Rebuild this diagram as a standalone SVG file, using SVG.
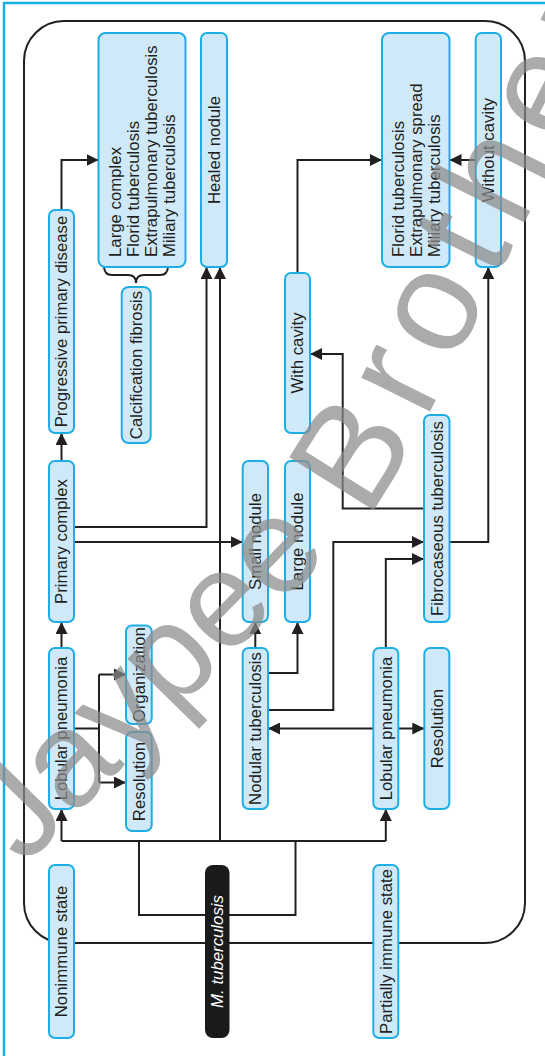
<svg xmlns="http://www.w3.org/2000/svg" width="545" height="1056" viewBox="0 0 545 1056">
<defs>
<style>
.n rect{fill:#d0e9f8;stroke:#1eaee5;stroke-width:2}
.t{font-family:"Liberation Sans",Arial,Helvetica,sans-serif;font-size:16.8px;fill:#231f20}
.c{fill:none;stroke:#231f20;stroke-width:2}
.a{marker-end:url(#ah)}
</style>
<marker id="ah" viewBox="0 0 12 12" refX="12" refY="6" markerWidth="12" markerHeight="12" markerUnits="userSpaceOnUse" orient="auto-start-reverse">
<path d="M0,0 L12,6 L0,12 z" fill="#231f20"/>
</marker>
<path id="wm" d="M-9,834 L290,528 Q340,477 370,420 L600,-40"/>
</defs>
<rect x="0" y="0" width="545" height="1056" fill="#ffffff"/>
<rect x="4" y="3" width="600" height="1100" fill="none" stroke="#1aaee6" stroke-width="2.5"/>
<rect x="24" y="21" width="501" height="922" rx="40" fill="none" stroke="#231f20" stroke-width="2"/>
<g id="connectors">
<path class="c a" d="M61.5,210 V160 H98.5"/>
<path class="c a" d="M61.5,461 V433"/>
<path class="c a" d="M61.5,648 V622"/>
<path class="c" d="M61.5,841 H385.8"/>
<path class="c a" d="M61.5,841 V809"/>
<path class="c a" d="M385.8,841 V809"/>
<path class="c a" d="M220,841 V267"/>
<path class="c" d="M139,841 V915 H295.5 V841"/>
<path class="c a" d="M74,527 H206.5 V267"/>
<path class="c a" d="M74,542 H242.7"/>
<path class="c" d="M74,728.5 H99 M99,674.5 V782.5"/>
<path class="c a" d="M99,674.5 H126"/>
<path class="c a" d="M99,782.5 H126"/>
<path class="c a" d="M255.3,648 V622"/>
<path class="c a" d="M268,673 H297.5 V622"/>
<path class="c a" d="M268,710 H333.3 V542 H424"/>
<path class="c a" d="M385.8,648 V559 H424"/>
<path class="c a" d="M268,728.5 H424.3" marker-start="url(#ah)"/>
<path class="c a" d="M424,508.5 H342.7 V354 H310"/>
<path class="c a" d="M449.5,542 H488.3 V267"/>
<path class="c a" d="M297.5,273 V160 H382"/>
<path class="c a" d="M475.7,160 H449.5"/>
<path class="c" d="M104,266 Q104,275 112,275 H128 Q136,275 136,283 Q136,275 144,275 H160 Q168,275 168,266"/>
</g>
<g id="n1" class="n"><rect x="49" y="210" width="25" height="223" rx="6"/><text class="t" transform="translate(61.5,321.5) rotate(-90)" text-anchor="middle" dy="0.35em">Progressive primary disease</text></g>
<g id="n2" class="n"><rect x="49" y="461" width="25" height="161" rx="6"/><text class="t" transform="translate(61.5,541.5) rotate(-90)" text-anchor="middle" dy="0.35em">Primary complex</text></g>
<g id="n3" class="n"><rect x="49" y="648" width="25" height="161" rx="6"/><text class="t" transform="translate(61.5,728.5) rotate(-90)" text-anchor="middle" dy="0.35em">Lobular pneumonia</text></g>
<g id="n4" class="n"><rect x="49" y="865" width="25" height="173" rx="6"/><text class="t" transform="translate(61.5,951.5) rotate(-90)" text-anchor="middle" dy="0.35em">Nonimmune state</text></g>
<g id="n5" class="n"><rect x="98.5" y="33" width="87" height="234" rx="7"/>
<text class="t" transform="translate(114.8,257) rotate(-90)" dy="0.35em">Large complex</text>
<text class="t" transform="translate(132.8,257) rotate(-90)" dy="0.35em">Florid tuberculosis</text>
<text class="t" transform="translate(150.8,257) rotate(-90)" dy="0.35em">Extrapulmonary tuberculosis</text>
<text class="t" transform="translate(168.8,257) rotate(-90)" dy="0.35em">Miliary tuberculosis</text></g>
<g id="n6" class="n"><rect x="121.7" y="287" width="29" height="156" rx="7"/><text class="t" transform="translate(136.2,365) rotate(-90)" text-anchor="middle" dy="0.35em">Calcification fibrosis</text></g>
<g id="n7" class="n"><rect x="201" y="33" width="26" height="234" rx="6"/><text class="t" transform="translate(214,150) rotate(-90)" text-anchor="middle" dy="0.35em">Healed nodule</text></g>
<g id="n8" class="n"><rect x="126" y="625.5" width="25.7" height="98.5" rx="6"/><text class="t" transform="translate(138.8,674.7) rotate(-90)" text-anchor="middle" dy="0.35em">Organization</text></g>
<g id="n9" class="n"><rect x="126" y="732" width="25.7" height="99" rx="6"/><text class="t" transform="translate(138.8,781.5) rotate(-90)" text-anchor="middle" dy="0.35em">Resolution</text></g>
<g id="n10"><rect x="205" y="865" width="24.5" height="173" rx="8" fill="#1a1a1a"/><text class="t" transform="translate(217.2,951.5) rotate(-90)" text-anchor="middle" dy="0.35em" style="fill:#ffffff;font-style:italic">M. tuberculosis</text></g>
<g id="n11" class="n"><rect x="242.7" y="461" width="25.3" height="161" rx="6"/><text class="t" transform="translate(255.3,541.5) rotate(-90)" text-anchor="middle" dy="0.35em">Small nodule</text></g>
<g id="n12" class="n"><rect x="242.7" y="648" width="25.3" height="161" rx="6"/><text class="t" transform="translate(255.3,728.5) rotate(-90)" text-anchor="middle" dy="0.35em">Nodular tuberculosis</text></g>
<g id="n13" class="n"><rect x="285" y="461" width="25" height="161" rx="6"/><text class="t" transform="translate(297.5,541.5) rotate(-90)" text-anchor="middle" dy="0.35em">Large nodule</text></g>
<g id="n14" class="n"><rect x="285" y="273" width="25" height="160" rx="6"/><text class="t" transform="translate(297.5,353) rotate(-90)" text-anchor="middle" dy="0.35em">With cavity</text></g>
<g id="n15" class="n"><rect x="382" y="33" width="67.5" height="234" rx="7"/>
<text class="t" transform="translate(397.7,257) rotate(-90)" dy="0.35em">Florid tuberculosis</text>
<text class="t" transform="translate(415.7,257) rotate(-90)" dy="0.35em">Extrapulmonary spread</text>
<text class="t" transform="translate(433.7,257) rotate(-90)" dy="0.35em">Miliary tuberculosis</text></g>
<g id="n16" class="n"><rect x="475.7" y="33" width="25.3" height="234" rx="6"/><text class="t" transform="translate(488.3,150) rotate(-90)" text-anchor="middle" dy="0.35em">Without cavity</text></g>
<g id="n17" class="n"><rect x="424" y="415" width="25.5" height="207" rx="6"/><text class="t" transform="translate(436.8,518.5) rotate(-90)" text-anchor="middle" dy="0.35em">Fibrocaseous tuberculosis</text></g>
<g id="n18" class="n"><rect x="373.3" y="648" width="25" height="161" rx="6"/><text class="t" transform="translate(385.8,728.5) rotate(-90)" text-anchor="middle" dy="0.35em">Lobular pneumonia</text></g>
<g id="n19" class="n"><rect x="424.3" y="648" width="25" height="161" rx="6"/><text class="t" transform="translate(436.8,728.5) rotate(-90)" text-anchor="middle" dy="0.35em">Resolution</text></g>
<g id="n20" class="n"><rect x="373.3" y="865" width="25" height="173" rx="6"/><text class="t" transform="translate(385.8,951.5) rotate(-90)" text-anchor="middle" dy="0.35em">Partially immune state</text></g>
<text dominant-baseline="central" style="font-family:'Liberation Sans',Arial,sans-serif;font-size:136px;fill:#8c8c8c;opacity:0.72"><textPath href="#wm">Jaypee <tspan style="font-size:145px;letter-spacing:14px">Brothers</tspan></textPath></text>
</svg>
